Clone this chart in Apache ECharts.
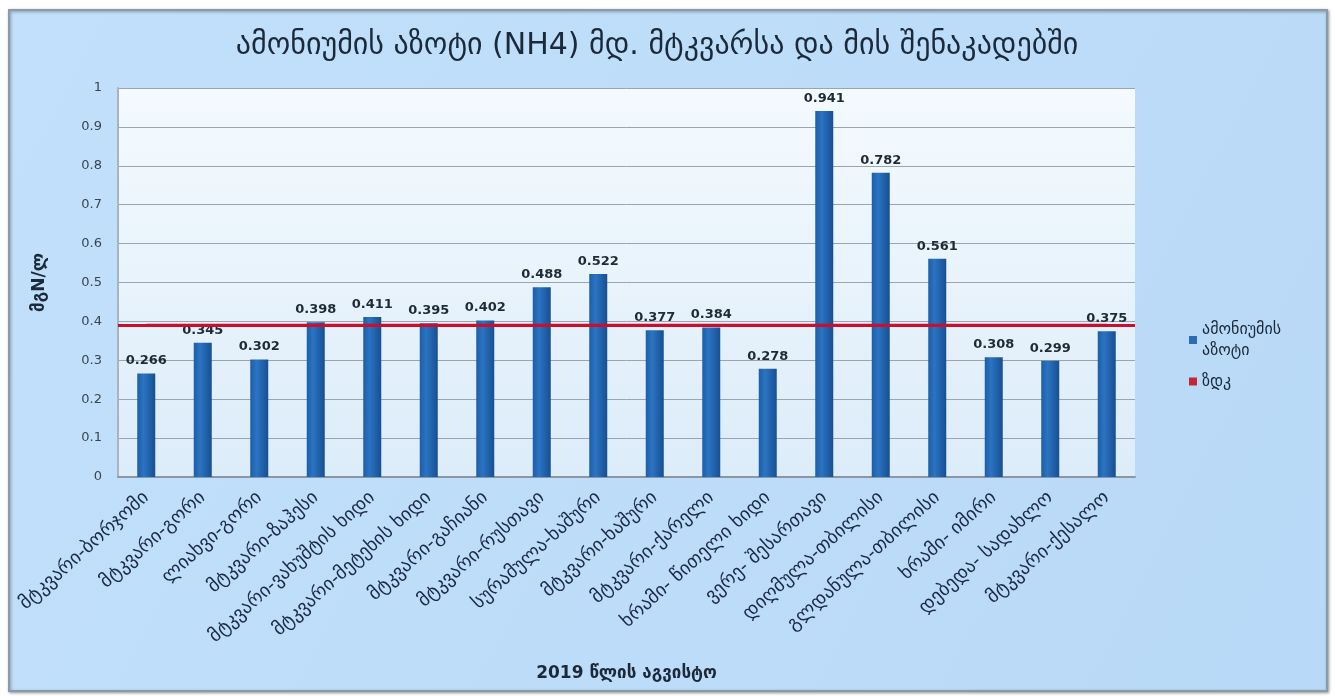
<!DOCTYPE html>
<html>
<head>
<meta charset="utf-8">
<script src="https://cdn.jsdelivr.net/npm/echarts@6/dist/echarts.min.js"></script>
<style>
  html, body { margin: 0; padding: 0; background: #ffffff; }
  #chart { width: 1335px; height: 696px; }
</style>
</head>
<body>
<div id="chart"></div>
<script>
// Monitoring stations, August 2019
const stations = [
  'მტკვარი-ბორჯომი', 'მტკვარი-გორი', 'ლიახვი-გორი', 'მტკვარი-ზაჰესი',
  'მტკვარი-ვახუშტის ხიდი', 'მტკვარი-მეტეხის ხიდი', 'მტკვარი-გაჩიანი', 'მტკვარი-რუსთავი',
  'სურამულა-ხაშური', 'მტკვარი-ხაშური', 'მტკვარი-ქარელი', 'ხრამი- წითელი ხიდი',
  'ვერე- შესართავი', 'დიღმულა-თბილისი', 'გლდანულა-თბილისი', 'ხრამი- იმირი',
  'დებედა- სადახლო', 'მტკვარი-ქესალო'
];
// Ammonium nitrogen, mgN/l
const ammonium = [0.266, 0.345, 0.302, 0.398, 0.411, 0.395, 0.402, 0.488, 0.522,
                  0.377, 0.384, 0.278, 0.941, 0.782, 0.561, 0.308, 0.299, 0.375];
// Maximum allowable concentration
const zdkValue = 0.39;
const zdk = stations.map(() => zdkValue);
const yTicks = { min: 0, max: 1, interval: 0.1 };

const FONT = '"DejaVu Sans", sans-serif';
const chart = echarts.init(document.getElementById('chart'));

chart.setOption({
  animation: false,
  backgroundColor: '#ffffff',
  textStyle: { fontFamily: FONT },
  graphic: [
    {
      type: 'rect', z: -10,
      shape: { x: 9, y: 10, width: 1318, height: 681 },
      style: {
        fill: new echarts.graphic.LinearGradient(0, 0, 1, 1, [
          { offset: 0, color: '#c2e0fb' }, { offset: 1, color: '#b8d9f7' }
        ]),
        stroke: '#8a9aab', lineWidth: 2,
        shadowBlur: 3, shadowColor: 'rgba(0,0,0,0.35)', shadowOffsetX: 1, shadowOffsetY: 1
      }
    }
  ],
  title: {
    text: 'ამონიუმის აზოტი (NH4) მდ. მტკვარსა და მის შენაკადებში',
    left: 652, top: 26, textAlign: 'center',
    textStyle: { fontFamily: FONT, fontSize: 30, fontWeight: 'normal', color: '#1b2a3a' }
  },
  legend: {
    orient: 'vertical', left: 1184, top: 314, itemGap: 10,
    itemWidth: 8, itemHeight: 8, icon: 'rect',
    textStyle: { fontFamily: FONT, fontSize: 16, color: '#1b2a3a', lineHeight: 21 },
    formatter: name => name === 'ამონიუმის აზოტი' ? 'ამონიუმის\nაზოტი' : name,
    data: [
      { name: 'ამონიუმის აზოტი', itemStyle: { color: '#2a6db5' } },
      { name: 'ზდკ', itemStyle: { color: '#c0283a' } }
    ]
  },
  grid: {
    left: 118, right: 200, top: 88, bottom: 219,
    show: true, borderWidth: 0,
    backgroundColor: new echarts.graphic.LinearGradient(0, 0, 0, 1, [
      { offset: 0, color: '#f4fafe' }, { offset: 1, color: '#dcecf9' }
    ])
  },
  xAxis: {
    type: 'category',
    data: stations,
    name: '2019 წლის აგვისტო',
    nameLocation: 'middle', nameGap: 188,
    nameTextStyle: { fontFamily: FONT, fontSize: 17, fontWeight: 'bold', color: '#1b2a3a' },
    axisLine: { lineStyle: { color: '#8b97a3', width: 2 } },
    axisTick: { show: false },
    axisLabel: { rotate: 42, fontSize: 19, color: '#1b2a48', margin: 18, fontFamily: FONT }
  },
  yAxis: {
    type: 'value',
    min: yTicks.min, max: yTicks.max, interval: yTicks.interval,
    name: 'მგN/ლ',
    nameLocation: 'middle', nameGap: 70, nameRotate: 90,
    nameTextStyle: { fontFamily: FONT, fontSize: 17, fontWeight: 'bold', color: '#1b2a3a' },
    axisLine: { show: true, lineStyle: { color: '#a9b4be', width: 2 } },
    axisTick: { show: false },
    axisLabel: { fontSize: 13, color: '#3a4650', margin: 16, fontFamily: FONT,
                 formatter: v => String(Math.round(v * 10) / 10) },
    splitLine: { lineStyle: { color: '#9aa5ad', width: 1 } }
  },
  series: [
    {
      name: 'ამონიუმის აზოტი',
      type: 'bar',
      data: ammonium,
      barWidth: 18,
      itemStyle: {
        color: new echarts.graphic.LinearGradient(0, 0, 1, 0, [
          { offset: 0, color: '#1c5ea8' },
          { offset: 0.35, color: '#2b74c2' },
          { offset: 1, color: '#174f92' }
        ])
      },
      label: {
        show: true, position: 'top', distance: 6,
        fontFamily: FONT, fontSize: 13, fontWeight: 'bold', color: '#1e2a36',
        formatter: p => p.value.toFixed(3)
      },
      z: 2
    },
    {
      name: 'ზდკ',
      type: 'line',
      data: zdk,
      symbol: 'none',
      lineStyle: { color: '#c8102e', width: 3 },
      markLine: {
        silent: true, symbol: 'none', label: { show: false },
        lineStyle: { color: '#c8102e', width: 3, type: 'solid' },
        data: [{ yAxis: zdkValue }]
      },
      z: 3
    }
  ]
});
</script>
</body>
</html>
